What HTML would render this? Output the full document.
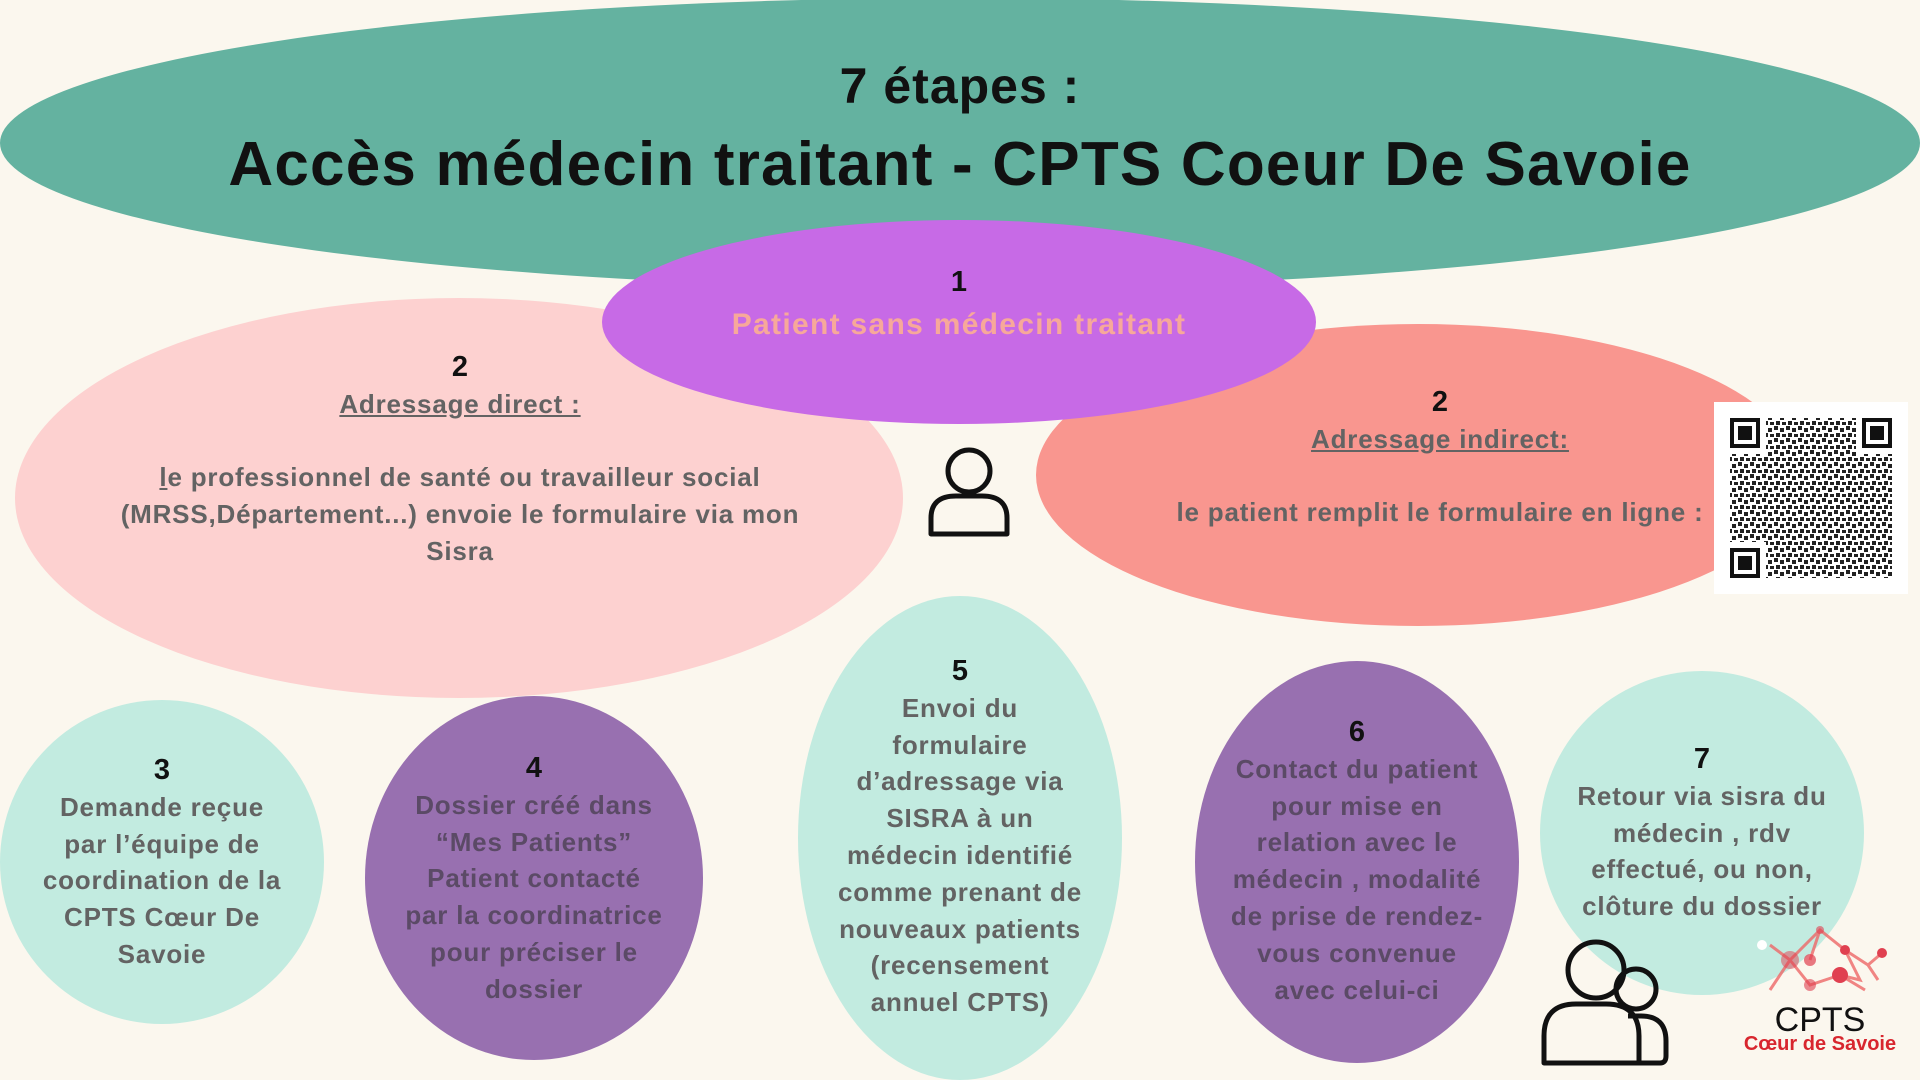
<!DOCTYPE html>
<html><head><meta charset="utf-8"><style>
body{margin:0;width:1920px;height:1080px;background:#fbf7ee;position:relative;overflow:hidden;font-family:"Liberation Sans",sans-serif;font-weight:bold}
.e{position:absolute;border-radius:50%}
.t{position:absolute;text-align:center;line-height:36.8px;font-size:26px;letter-spacing:0.8px;color:#636363}
.n{color:#111;font-size:29px;letter-spacing:0}
u{text-decoration:underline}
</style></head><body>
<div class="e" style="left:0;top:-2px;width:1920px;height:290px;background:#64b2a0"></div>
<div class="e" style="left:15px;top:298px;width:888px;height:400px;background:#fdd1d0"></div>
<div class="e" style="left:1036px;top:324px;width:764px;height:302px;background:#f9968f"></div>
<div class="e" style="left:602px;top:220px;width:714px;height:204px;background:#c76ae6"></div>

<div class="t" style="left:0;width:1920px;top:58px;font-size:50px;line-height:56px;color:#111;letter-spacing:1px">7 étapes :</div>
<div class="t" style="left:0;width:1920px;top:130px;font-size:62px;line-height:70px;color:#111;letter-spacing:1.2px">Accès médecin traitant - CPTS Coeur De Savoie</div>

<div class="t n" style="left:602px;width:714px;top:264px">1</div>
<div class="t" style="left:602px;width:714px;top:307px;font-size:30px;letter-spacing:1.3px;color:#f7a89a">Patient sans médecin traitant</div>

<div class="t" style="left:30px;width:860px;top:349px"><span class="n">2</span><br><u>Adressage direct :</u><br><br><u>l</u>e professionnel de santé ou travailleur social<br>(MRSS,Département...) envoie le formulaire via mon<br>Sisra</div>

<div class="t" style="left:1110px;width:660px;top:384px"><span class="n">2</span><br><u>Adressage indirect:</u><br><br>le patient remplit le formulaire en ligne :</div>

<!-- QR -->
<svg style="position:absolute;left:1714px;top:402px" width="194" height="192" viewBox="0 0 194 192">
<defs><pattern id="p" width="12" height="12" patternUnits="userSpaceOnUse">
<rect x="0" y="0" width="4" height="4" fill="#222"/><rect x="6" y="2" width="4" height="4" fill="#222"/><rect x="2" y="7" width="4" height="4" fill="#222"/><rect x="8" y="8" width="4" height="3" fill="#222"/></pattern></defs>
<rect width="194" height="192" fill="#fff"/>
<rect x="52" y="16" width="90" height="160" fill="url(#p)"/>
<rect x="16" y="52" width="162" height="88" fill="url(#p)"/>
<rect x="52" y="140" width="126" height="36" fill="url(#p)"/>
<g fill="#111"><rect x="16" y="16" width="30" height="30"/><rect x="148" y="16" width="30" height="30"/><rect x="16" y="146" width="30" height="30"/></g>
<g fill="#fff"><rect x="20" y="20" width="22" height="22"/><rect x="152" y="20" width="22" height="22"/><rect x="20" y="150" width="22" height="22"/></g>
<g fill="#111"><rect x="24" y="24" width="14" height="14"/><rect x="156" y="24" width="14" height="14"/><rect x="24" y="154" width="14" height="14"/></g>
</svg>

<svg style="position:absolute;left:926px;top:446px" width="86" height="92" viewBox="0 0 86 92">
<circle cx="43" cy="25" r="21" fill="none" stroke="#111" stroke-width="5"/>
<path d="M5 88 V72 Q5 50 30 50 H56 Q81 50 81 72 V88 Z" fill="none" stroke="#111" stroke-width="5" stroke-linejoin="round"/>
</svg>

<div class="e" style="left:0;top:700px;width:324px;height:324px;background:#c2ebe0"></div>
<div class="e" style="left:365px;top:696px;width:338px;height:364px;background:#9870b0"></div>
<div class="e" style="left:798px;top:596px;width:324px;height:484px;background:#c2ebe0"></div>
<div class="e" style="left:1195px;top:661px;width:324px;height:402px;background:#9870b0"></div>
<div class="e" style="left:1540px;top:671px;width:324px;height:324px;background:#c2ebe0"></div>

<div class="t" style="left:-20px;width:364px;top:752px"><span class="n">3</span><br>Demande reçue<br>par l’équipe de<br>coordination de la<br>CPTS Cœur De<br>Savoie</div>
<div class="t" style="left:345px;width:378px;top:750px;color:#5b4a66"><span class="n">4</span><br>Dossier créé dans<br>“Mes Patients”<br>Patient contacté<br>par la coordinatrice<br>pour préciser le<br>dossier</div>
<div class="t" style="left:778px;width:364px;top:653px"><span class="n">5</span><br>Envoi du<br>formulaire<br>d’adressage via<br>SISRA à un<br>médecin identifié<br>comme prenant de<br>nouveaux patients<br>(recensement<br>annuel CPTS)</div>
<div class="t" style="left:1175px;width:364px;top:714px;color:#5b4a66"><span class="n">6</span><br>Contact du patient<br>pour mise en<br>relation avec le<br>médecin , modalité<br>de prise de rendez-<br>vous convenue<br>avec celui-ci</div>
<div class="t" style="left:1520px;width:364px;top:741px"><span class="n">7</span><br>Retour via sisra du<br>médecin , rdv<br>effectué, ou non,<br>clôture du dossier</div>

<svg style="position:absolute;left:1536px;top:936px" width="136" height="130" viewBox="0 0 136 130">
<circle cx="100" cy="53" r="20" fill="none" stroke="#111" stroke-width="5"/>
<path d="M95 127 H124 Q130 127 130 120 V105 Q130 80 105 80 H92" fill="none" stroke="#111" stroke-width="5"/>
<circle cx="60" cy="34" r="28" fill="none" stroke="#111" stroke-width="5"/>
<path d="M8 127 V100 Q8 68 40 68 H70 Q103 68 103 100 V127 Z" fill="none" stroke="#111" stroke-width="5" stroke-linejoin="round"/>
</svg>

<svg style="position:absolute;left:1750px;top:925px" width="140" height="80" viewBox="0 0 140 80">
<g stroke="#e66" stroke-width="3" fill="none" opacity="0.8">
<path d="M20 20 L40 35 L70 5 L95 25 L110 55 L90 50 L60 60 L40 35 M95 25 L118 40 L128 55 M118 40 L132 28 M90 50 L115 65 M40 35 L20 65 M70 5 L60 35"/>
</g>
<g fill="#e04050"><circle cx="132" cy="28" r="5"/><circle cx="90" cy="50" r="8"/><circle cx="60" cy="35" r="6" opacity=".7"/><circle cx="40" cy="35" r="9" opacity=".5"/><circle cx="95" cy="25" r="5"/><circle cx="60" cy="60" r="6" opacity=".6"/><circle cx="70" cy="5" r="4" opacity=".6"/></g>
<circle cx="12" cy="20" r="5" fill="#fff"/>
</svg>
<div class="t" style="left:1740px;width:160px;top:1000px;font-size:34px;font-weight:normal;color:#111;line-height:40px;letter-spacing:0">CPTS</div>
<div class="t" style="left:1720px;width:200px;top:1032px;font-size:20px;color:#d8262e;line-height:24px;letter-spacing:0">Cœur de Savoie</div>
</body></html>
